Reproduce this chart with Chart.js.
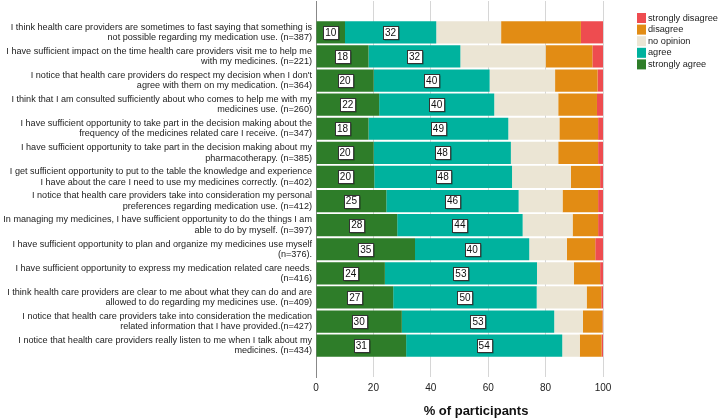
<!DOCTYPE html>
<html>
<head>
<meta charset="utf-8">
<script src="https://cdn.jsdelivr.net/npm/chart.js@4.4.0/dist/chart.umd.min.js"></script>
<style>
  html, body { margin: 0; padding: 0; background: #fff; }
  #wrap { width: 719px; height: 420px; position: relative; }
</style>
</head>
<body>
<div id="wrap"><canvas id="chart"></canvas></div>
<script>
// statements, each split into its two printed lines
const statements = [
    ['I think health care providers are sometimes to fast saying that something is', 'not possible regarding my medication use. (n=387)'],
    ['I have sufficient impact on the time health care providers visit me to help me', 'with my medicines. (n=221)'],
    ['I notice that health care providers do respect my decision when I don\'t', 'agree with them on my medication. (n=364)'],
    ['I think that I am consulted sufficiently about who comes to help me with my', 'medicines use. (n=260)'],
    ['I have sufficient opportunity to take part in the decision making about the', 'frequency of the medicines related care I receive. (n=347)'],
    ['I have sufficient opportunity to take part in the decision making about my', 'pharmacotherapy. (n=385)'],
    ['I get sufficient opportunity to put to the table the knowledge and experience', 'I have about the care I need to use my medicines correctly. (n=402)'],
    ['I notice that health care providers take into consideration my personal', 'preferences regarding medication use. (n=412)'],
    ['In managing my medicines, I have sufficient opportunity to do the things I am', 'able to do by myself. (n=397)'],
    ['I have sufficient opportunity to plan and organize my medicines use myself', '(n=376).'],
    ['I have sufficient opportunity to express my medication related care needs.', '(n=416)'],
    ['I think health care providers are clear to me about what they can do and are', 'allowed to do regarding my medicines use. (n=409)'],
    ['I notice that health care providers take into consideration the medication', 'related information that I have provided.(n=427)'],
    ['I notice that health care providers really listen to me when I talk about my', 'medicines. (n=434)']
];

// % of participants per answer
const stronglyAgree    = [10.1, 18.3, 20.1, 22.0, 18.3, 20.1, 20.3, 24.5, 28.3, 34.5, 24.0, 26.9, 29.9, 31.4];
const agree            = [31.8, 32.0, 40.4, 40.1, 48.7, 47.8, 48.0, 46.1, 43.7, 39.8, 53.0, 50.0, 53.1, 54.4];
const noOpinion        = [22.6, 29.7, 22.8, 22.3, 17.8, 16.5, 20.5, 15.3, 17.4, 13.1, 12.9, 17.4, 10.0, 6.1];
const disagree         = [27.8, 16.3, 14.8, 13.5, 13.5, 13.9, 10.2, 12.4, 8.9, 9.9, 9.1, 5.1, 6.8, 7.6];
const stronglyDisagree = [7.7, 3.7, 1.9, 2.1, 1.7, 1.7, 1.0, 1.7, 1.7, 2.7, 1.0, 0.6, 0.2, 0.5];

const xTicks = [0, 20, 40, 60, 80, 100];

const FONT = 'Arial, "Liberation Sans", sans-serif';

function series(label, values, color) {
    return {
        label: label,
        data: values.map((v, i) => ({ x: v, y: i })),
        backgroundColor: color,
        borderWidth: 0,
        barPercentage: 0.92,
        categoryPercentage: 1
    };
}

// boxed values, legend and axis title
const extras = {
    id: 'extras',
    afterDatasetsDraw(chart) {
        const ctx = chart.ctx;
        ctx.save();
        ctx.font = '10px ' + FONT;
        ctx.textAlign = 'center';
        ctx.textBaseline = 'middle';
        [0, 1].forEach(di => {
            chart.getDatasetMeta(di).data.forEach((bar, i) => {
                const txt = String(Math.round(chart.data.datasets[di].data[i].x));
                const c = bar.getCenterPoint();
                const w = ctx.measureText(txt).width + 4;
                const h = 13;
                const x0 = Math.round(c.x - w / 2) + 0.5;
                const y0 = Math.round(c.y - h / 2) + 0.5;
                ctx.fillStyle = 'rgba(0,0,0,0.35)';
                ctx.fillRect(x0 + 1, y0 + 1, w, h);
                ctx.fillStyle = '#fff';
                ctx.fillRect(x0, y0, w, h);
                ctx.strokeStyle = '#333';
                ctx.lineWidth = 1;
                ctx.strokeRect(x0, y0, w, h);
                ctx.fillStyle = '#111';
                ctx.fillText(txt, c.x, c.y + 0.5);
            });
        });
        ctx.restore();
    },
    afterDraw(chart) {
        const ctx = chart.ctx;
        ctx.save();
        // legend, reversed order
        const ds = chart.data.datasets.slice().reverse();
        ctx.font = '9.2px ' + FONT;
        ctx.textBaseline = 'middle';
        ds.forEach((d, i) => {
            const y = 18 + i * 11.6;
            ctx.fillStyle = d.backgroundColor;
            ctx.fillRect(637, y - 5, 9, 10);
            ctx.fillStyle = '#222';
            ctx.fillText(d.label, 648, y);
        });
        // axis title
        ctx.font = 'bold 13px ' + FONT;
        ctx.textAlign = 'center';
        ctx.fillStyle = '#111';
        ctx.fillText('% of participants', 476, 411);
        ctx.restore();
    }
};

new Chart(document.getElementById('chart'), {
    type: 'bar',
    data: {
        datasets: [
            series('strongly agree', stronglyAgree, '#2e7d29'),
            series('agree', agree, '#00b29e'),
            series('no opinion', noOpinion, '#ebe5d4'),
            series('disagree', disagree, '#e28c14'),
            series('strongly disagree', stronglyDisagree, '#ee4c50')
        ]
    },
    options: {
        indexAxis: 'y',
        responsive: true,
        maintainAspectRatio: false,
        animation: false,
        layout: { padding: { left: 2, right: 116, top: 1, bottom: 21 } },
        plugins: {
            legend: { display: false },
            tooltip: { enabled: false }
        },
        scales: {
            x: {
                stacked: true,
                min: 0,
                max: 100,
                afterBuildTicks: s => { s.ticks = xTicks.map(v => ({ value: v })); },
                grid: { color: '#d6d6d6', drawTicks: false },
                border: { display: false },
                ticks: { padding: 5, color: '#222', font: { family: FONT, size: 10 } }
            },
            y: {
                type: 'linear',
                stacked: true,
                reverse: true,
                offset: false,
                min: -1.3,
                max: 14.3,
                afterBuildTicks: s => { s.ticks = statements.map((t, i) => ({ value: i })); },
                afterFit: s => {
                    s.width = 314;
                    s.paddingTop = 0;
                    s.paddingBottom = 0;
                },
                grid: { display: false, drawTicks: false, offset: false },
                border: { display: true, color: '#888' },
                ticks: {
                    autoSkip: false,
                    padding: 4,
                    color: '#222',
                    font: { family: FONT, size: 9.1, lineHeight: 1.15 },
                    callback: v => statements[v] || ''
                }
            }
        }
    },
    plugins: [extras]
});
</script>
</body>
</html>
